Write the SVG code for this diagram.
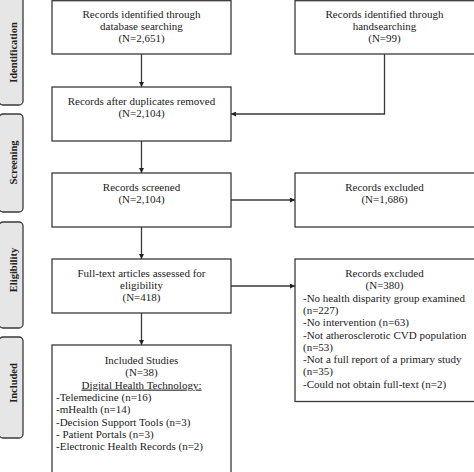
<svg xmlns="http://www.w3.org/2000/svg" width="474" height="472" viewBox="0 0 474 472">
<style>
.box{fill:#fff;stroke:#3a3a3a;stroke-width:1.3}
.side{fill:#e6e6e6;stroke:#3a3a3a;stroke-width:1.3}
.t{font-family:"Liberation Serif","Times New Roman",serif;font-size:11px;fill:#222}
.c{text-anchor:middle}
.lbl{font-family:"Liberation Serif","Times New Roman",serif;font-size:10.5px;font-weight:bold;fill:#222;text-anchor:middle}
.ln{fill:none;stroke:#3a3a3a;stroke-width:1.3}
</style>
<defs>
<marker id="ah" viewBox="0 0 10 10" refX="10" refY="5" markerWidth="5" markerHeight="5" orient="auto" markerUnits="userSpaceOnUse">
<path d="M0,0 L10,5 L0,10 z" fill="#222"/>
</marker>
</defs>
<rect width="474" height="472" fill="#fff"/>
<g id="side-identification"><rect class="side" x="-1" y="-6" width="24" height="111" rx="4"/><text class="lbl" transform="translate(16.5,52.5) rotate(-90)">Identification</text></g>
<g id="side-screening"><rect class="side" x="-1" y="114" width="24" height="98" rx="4"/><text class="lbl" transform="translate(16.5,162.5) rotate(-90)">Screening</text></g>
<g id="side-eligibility"><rect class="side" x="-1" y="222" width="24" height="106" rx="4"/><text class="lbl" transform="translate(16.5,270) rotate(-90)">Eligibility</text></g>
<g id="side-included"><rect class="side" x="-1" y="337" width="24" height="101" rx="4"/><text class="lbl" transform="translate(16.5,383) rotate(-90)">Included</text></g>

<g id="connectors">
<line class="ln" x1="141.5" y1="54" x2="141.5" y2="87" marker-end="url(#ah)"/>
<polyline class="ln" points="384.5,54 384.5,114 231,114" marker-end="url(#ah)"/>
<line class="ln" x1="141.5" y1="141" x2="141.5" y2="173" marker-end="url(#ah)"/>
<line class="ln" x1="231" y1="200" x2="295" y2="200" marker-end="url(#ah)"/>
<line class="ln" x1="141.5" y1="227" x2="141.5" y2="259" marker-end="url(#ah)"/>
<line class="ln" x1="231" y1="286" x2="295" y2="286" marker-end="url(#ah)"/>
<line class="ln" x1="141.5" y1="313" x2="141.5" y2="345" marker-end="url(#ah)"/>
</g>

<g id="db-search"><rect class="box" x="52" y="0.7" width="179" height="53.3"/>
<text class="t c" x="141.5" y="18">Records identified through</text>
<text class="t c" x="141.5" y="30">database searching</text>
<text class="t c" x="141.5" y="42">(N=2,651)</text></g>

<g id="hand-search"><rect class="box" x="295" y="0.7" width="182" height="53.3"/>
<text class="t c" x="384.5" y="18">Records identified through</text>
<text class="t c" x="384.5" y="30">handsearching</text>
<text class="t c" x="384.5" y="42">(N=99)</text></g>

<g id="dedup"><rect class="box" x="52" y="87" width="179" height="54"/>
<text class="t c" x="141.5" y="105">Records after duplicates removed</text>
<text class="t c" x="141.5" y="117">(N=2,104)</text></g>

<g id="screened"><rect class="box" x="52" y="173" width="179" height="54"/>
<text class="t c" x="141.5" y="190.5">Records screened</text>
<text class="t c" x="141.5" y="202.5">(N=2,104)</text></g>

<g id="excluded1"><rect class="box" x="295" y="173" width="182" height="54"/>
<text class="t c" x="384.5" y="190.5">Records excluded</text>
<text class="t c" x="384.5" y="202.5">(N=1,686)</text></g>

<g id="fulltext"><rect class="box" x="52" y="259" width="179" height="54"/>
<text class="t c" x="141.5" y="277">Full-text articles assessed for</text>
<text class="t c" x="141.5" y="289">eligibility</text>
<text class="t c" x="141.5" y="301">(N=418)</text></g>

<g id="excluded2"><rect class="box" x="295" y="259" width="182" height="142.5"/>
<text class="t c" x="384.5" y="277">Records excluded</text>
<text class="t c" x="384.5" y="289.3">(N=380)</text>
<text class="t" x="303" y="301.6">-No health disparity group examined</text>
<text class="t" x="303" y="313.9">(n=227)</text>
<text class="t" x="303" y="326.2">-No intervention (n=63)</text>
<text class="t" x="303" y="338.5">-Not atherosclerotic CVD population</text>
<text class="t" x="303" y="350.8">(n=53)</text>
<text class="t" x="303" y="363.1">-Not a full report of a primary study</text>
<text class="t" x="303" y="375.4">(n=35)</text>
<text class="t" x="303" y="387.7">-Could not obtain full-text (n=2)</text></g>

<g id="included"><rect class="box" x="52" y="345" width="179" height="130"/>
<text class="t c" x="141.5" y="364">Included Studies</text>
<text class="t c" x="141.5" y="376.3">(N=38)</text>
<text class="t c" x="141.5" y="388.6" text-decoration="underline">Digital Health Technology:</text>
<text class="t" x="56" y="400.9">-Telemedicine (n=16)</text>
<text class="t" x="56" y="413.2">-mHealth (n=14)</text>
<text class="t" x="56" y="425.5">-Decision Support Tools (n=3)</text>
<text class="t" x="56" y="437.8">- Patient Portals (n=3)</text>
<text class="t" x="56" y="450.1">-Electronic Health Records (n=2)</text></g>
</svg>
